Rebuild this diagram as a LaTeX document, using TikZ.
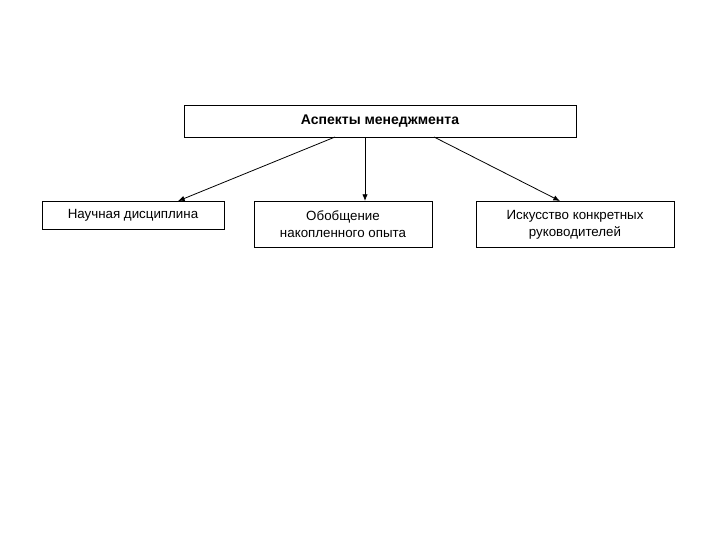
\documentclass[tikz,border=0pt]{standalone}
\usepackage{fontspec}
\setmainfont{Liberation Sans}
\usetikzlibrary{arrows.meta}
\begin{document}
\begin{tikzpicture}[x=0.75pt,y=-0.75pt,
  box/.style={draw,line width=0.6pt,inner sep=0pt,align=center,font=\fontsize{10}{13}\selectfont},
  conn/.style={line width=0.6pt,-{Latex[length=5pt,width=4pt]}}]
\useasboundingbox (0,0) rectangle (720,540);
\node[box,font=\bfseries\fontsize{10.5}{13}\selectfont,minimum width=294pt,minimum height=24pt] (top) at (380,121) {Аспекты менеджмента};
\node[box,minimum width=136.5pt,minimum height=21pt] (a) at (133,215) {Научная дисциплина};
\node[box,minimum width=133.5pt,minimum height=35pt] (b) at (343,224.5) {Обобщение\\накопленного опыта};
\node[box,minimum width=148.5pt,minimum height=35pt] (c) at (575,224.5) {Искусство конкретных\\руководителей};
\coordinate (s1) at (335,137);
\coordinate (s2) at (365,137);
\coordinate (s3) at (434,137);
\draw[conn] (s1) -- (178,201);
\draw[conn] (s2) -- (365,201);
\draw[conn] (s3) -- (560,201);
\end{tikzpicture}
\end{document}
